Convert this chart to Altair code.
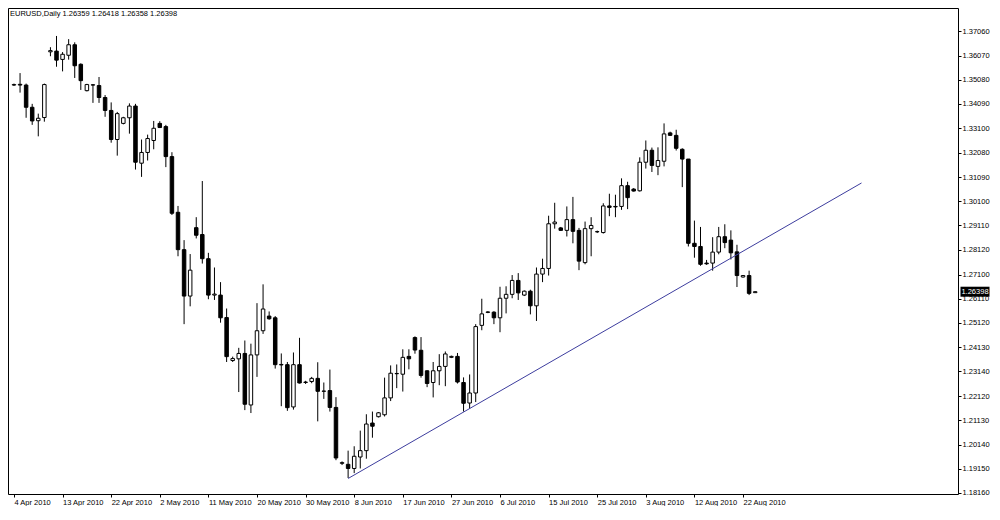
import altair as alt
import pandas as pd

# ---- data (EURUSD daily, bar index 0 = Sun 4 Apr 2010) ----
opens = [1.3486, 1.3489, 1.3486, 1.3395, 1.3340, 1.3353, 1.3622, 1.3625, 1.3591, 1.3608,
         1.3651, 1.3571, 1.3463, 1.3487, 1.3484, 1.3435, 1.3382, 1.3263, 1.3329, 1.3352,
         1.3400, 1.3166, 1.3210, 1.3259, 1.3329, 1.3316, 1.3193, 1.2965, 1.2812, 1.2622,
         1.2902, 1.2874, 1.2775, 1.2626, 1.2626, 1.2534, 1.2358, 1.2365, 1.2387, 1.2176,
         1.2381, 1.2480, 1.2540, 1.2533, 1.2340, 1.2341, 1.2168, 1.2341, 1.2268, 1.2272,
         1.2285, 1.2232, 1.2235, 1.2166, 1.1937, 1.1933, 1.1916, 1.1963, 1.1989, 1.2102,
         1.2128, 1.2136, 1.2205, 1.2305, 1.2302, 1.2375, 1.2452, 1.2400, 1.2316, 1.2268,
         1.2316, 1.2334, 1.2371, 1.2375, 1.2268, 1.2184, 1.2225, 1.2502, 1.2555, 1.2556,
         1.2533, 1.2613, 1.2629, 1.2686, 1.2626, 1.2642, 1.2582, 1.2712, 1.2735, 1.2918,
         1.2901, 1.2891, 1.2935, 1.2891, 1.2759, 1.2898, 1.2885, 1.2882, 1.2991, 1.2989,
         1.2989, 1.3074, 1.3060, 1.3053, 1.3170, 1.3219, 1.3153, 1.3174, 1.3290, 1.3280,
         1.3223, 1.3183, 1.2838, 1.2825, 1.2757, 1.2757, 1.2802, 1.2865, 1.2851, 1.2803,
         1.2700, 1.2706, 1.26359]
highs = [1.3492, 1.3535, 1.3492, 1.3409, 1.3369, 1.3492, 1.3641, 1.3687, 1.3621, 1.3674,
         1.3661, 1.3575, 1.3491, 1.3490, 1.3519, 1.3445, 1.3415, 1.3376, 1.3356, 1.3411,
         1.3409, 1.3263, 1.3283, 1.3339, 1.3338, 1.3323, 1.3211, 1.2991, 1.2851, 1.2794,
         1.2945, 1.3093, 1.2799, 1.2739, 1.2679, 1.2571, 1.2374, 1.2410, 1.2440, 1.2427,
         1.2593, 1.2670, 1.2559, 1.2540, 1.2387, 1.2352, 1.2391, 1.2451, 1.2275, 1.2291,
         1.2351, 1.2268, 1.2321, 1.2208, 1.1945, 1.1989, 1.2007, 1.2071, 1.2138, 1.2149,
         1.2147, 1.2288, 1.2338, 1.2342, 1.2404, 1.2404, 1.2457, 1.2454, 1.2318, 1.2352,
         1.2384, 1.2395, 1.2378, 1.2389, 1.2289, 1.2301, 1.2507, 1.2611, 1.2560, 1.2560,
         1.2660, 1.2662, 1.2708, 1.2716, 1.2645, 1.2648, 1.2739, 1.2775, 1.2951, 1.3004,
         1.2905, 1.2989, 1.3028, 1.2901, 1.2927, 1.2945, 1.2890, 1.3002, 1.3041, 1.3037,
         1.3104, 1.3090, 1.3064, 1.3190, 1.3259, 1.3230, 1.3231, 1.3329, 1.3295, 1.3303,
         1.3227, 1.3183, 1.2931, 1.2905, 1.2770, 1.2863, 1.2905, 1.2916, 1.2891, 1.2832,
         1.2708, 1.2726, 1.26418]
lows = [1.3482, 1.3455, 1.3352, 1.3323, 1.3276, 1.3336, 1.3604, 1.3561, 1.3542, 1.3590,
        1.3515, 1.3466, 1.3460, 1.3413, 1.3413, 1.3356, 1.3250, 1.3197, 1.3325, 1.3287,
        1.3140, 1.3110, 1.3177, 1.3223, 1.3310, 1.3150, 1.2954, 1.2785, 1.2507, 1.2580,
        1.2858, 1.2755, 1.2609, 1.2606, 1.2513, 1.2352, 1.2352, 1.2229, 1.2155, 1.2143,
        1.2291, 1.2467, 1.2525, 1.2325, 1.2171, 1.2152, 1.2157, 1.2264, 1.2262, 1.2265,
        1.2109, 1.2201, 1.2149, 1.1950, 1.1930, 1.1877, 1.1897, 1.1916, 1.1956, 1.2042,
        1.2125, 1.2129, 1.2192, 1.2245, 1.2231, 1.2322, 1.2386, 1.2288, 1.2249, 1.2207,
        1.2257, 1.2253, 1.2368, 1.2264, 1.2149, 1.2161, 1.2188, 1.2482, 1.2552, 1.2507,
        1.2474, 1.2551, 1.2613, 1.2606, 1.2622, 1.2547, 1.2520, 1.2679, 1.2706, 1.2898,
        1.2889, 1.2866, 1.2838, 1.2728, 1.2752, 1.2785, 1.2880, 1.2878, 1.2949, 1.2945,
        1.2975, 1.2978, 1.3050, 1.3050, 1.3144, 1.3130, 1.3117, 1.3153, 1.3278, 1.3218,
        1.3068, 1.2825, 1.2779, 1.2746, 1.2750, 1.2726, 1.2793, 1.2818, 1.2772, 1.2659,
        1.2698, 1.2626, 1.26358]
closes = [1.3488, 1.3486, 1.3395, 1.3339, 1.3350, 1.3488, 1.3627, 1.3588, 1.3612, 1.3651,
          1.3565, 1.3504, 1.3488, 1.3486, 1.3435, 1.3382, 1.3263, 1.3369, 1.3352, 1.3400,
          1.3170, 1.3210, 1.3267, 1.3309, 1.3312, 1.3193, 1.2961, 1.2812, 1.2622, 1.2728,
          1.2871, 1.2775, 1.2626, 1.2630, 1.2533, 1.2374, 1.2366, 1.2387, 1.2179, 1.2381,
          1.2480, 1.2569, 1.2529, 1.2341, 1.2342, 1.2165, 1.2341, 1.2266, 1.2270, 1.2285,
          1.2232, 1.2233, 1.2166, 1.1959, 1.1940, 1.1916, 1.1966, 1.1989, 1.2098, 1.2089,
          1.2144, 1.2205, 1.2306, 1.2304, 1.2371, 1.2365, 1.2401, 1.2297, 1.2264, 1.2316,
          1.2334, 1.2385, 1.2375, 1.2270, 1.2183, 1.2225, 1.2497, 1.2549, 1.2557, 1.2533,
          1.2613, 1.2629, 1.2686, 1.2635, 1.2642, 1.2582, 1.2712, 1.2735, 1.2918, 1.2925,
          1.2891, 1.2935, 1.2887, 1.2765, 1.2898, 1.2911, 1.2886, 1.2991, 1.2985, 1.2987,
          1.3074, 1.3025, 1.3052, 1.3170, 1.3219, 1.3157, 1.3177, 1.3286, 1.3280, 1.3227,
          1.3183, 1.2838, 1.2825, 1.2752, 1.2754, 1.2802, 1.2865, 1.2841, 1.2799, 1.2706,
          1.2706, 1.2633, 1.26398]

date_labels = ["4 Apr 2010", "13 Apr 2010", "22 Apr 2010", "2 May 2010", "11 May 2010",
               "20 May 2010", "30 May 2010", "8 Jun 2010", "17 Jun 2010", "27 Jun 2010",
               "6 Jul 2010", "15 Jul 2010", "25 Jul 2010", "3 Aug 2010", "12 Aug 2010",
               "22 Aug 2010"]
label_every = 8
price_ticks = [1.37060, 1.36070, 1.35080, 1.34090, 1.33100, 1.32080, 1.31090, 1.30100,
               1.29110, 1.28120, 1.27100, 1.26110, 1.25120, 1.24130, 1.23140, 1.22120,
               1.21130, 1.20140, 1.19150, 1.18160]

# trend line anchor points (bar index, price)
trend_i = [55, 139.5]
trend_p = [1.1875, 1.3085]

symbol = "EURUSD,Daily"

# ---- build chart ----
df = pd.DataFrame({"i": list(range(len(opens))), "open": opens, "high": highs,
                   "low": lows, "close": closes})
trend_df = pd.DataFrame({"i": trend_i, "price": trend_p})

FONT = "Liberation Sans"
FS = 7.5
W, H = 950, 486

label_array = "[" + ",".join("'" + s + "'" for s in date_labels) + "]"
x_axis = alt.Axis(values=[k * label_every for k in range(len(date_labels))],
                  labelExpr=label_array + "[round(datum.value/" + str(label_every) + ")]",
                  labelAlign="left", labelBaseline="top", labelPadding=1,
                  tickSize=3, grid=False, domain=False, title=None, labelOverlap=False)
y_axis = alt.Axis(orient="right", values=price_ticks, format=".5f", tickSize=3,
                  labelPadding=1, grid=False, domain=False, title=None,
                  labelOverlap=False, labelBaseline="middle", labelBound=False)

xs = alt.Scale(domain=[-0.16, 154.56], nice=False, zero=False)
ys = alt.Scale(domain=[1.18115, 1.38015], nice=False, zero=False)


def X(field):
    return alt.X(field, scale=xs, axis=x_axis)


def Y(field):
    return alt.Y(field, scale=ys, axis=y_axis)


base = alt.Chart(df)
wicks = base.mark_rule(color="black", strokeWidth=1).encode(
    x=X("i:Q"), y=Y("low:Q"), y2="high:Q",
)
bodies = base.mark_bar(size=3.5, stroke="black", strokeWidth=1).encode(
    x=X("i:Q"), y=Y("open:Q"), y2="close:Q",
    fill=alt.condition("datum.close >= datum.open", alt.value("white"), alt.value("black")),
)
trend = alt.Chart(trend_df).mark_line(color="#3d3d9e", strokeWidth=1).encode(
    x=X("i:Q"), y=Y("price:Q"),
)

hdr = "{}  {:.5f} {:.5f} {:.5f} {:.5f}".format(symbol, opens[-1], highs[-1], lows[-1], closes[-1])
header = alt.Chart(pd.DataFrame({"t": [hdr]})).mark_text(
    align="left", baseline="middle", font=FONT, fontSize=FS, color="black"
).encode(x=alt.value(2), y=alt.value(6), text="t:N")

tag_df = pd.DataFrame({"p": [closes[-1]], "t": ["{:.5f}".format(closes[-1])]})
tag_box = alt.Chart(tag_df).mark_tick(orient="horizontal", size=29, thickness=10,
                                      color="black", opacity=1).encode(
    x=alt.value(W + 17), y=Y("p:Q"))
tag_text = alt.Chart(tag_df).mark_text(align="center", baseline="middle", font=FONT,
                                       fontSize=FS, color="white").encode(
    x=alt.value(W + 17), y=Y("p:Q"), text="t:N")

chart = alt.layer(wicks, bodies, trend, header, tag_box, tag_text).properties(
    width=W, height=H,
    padding={"left": 0, "top": 0, "right": 34, "bottom": 12},
    autosize=alt.AutoSizeParams(type="none"),
    background="white",
).configure_view(stroke="black", strokeWidth=1).configure_axis(
    labelFont=FONT, labelFontSize=FS, labelColor="black", tickColor="black", tickWidth=1,
    labelOverlap=False
)

chart.save("out.html", embed_options={"renderer": "svg", "actions": False})
